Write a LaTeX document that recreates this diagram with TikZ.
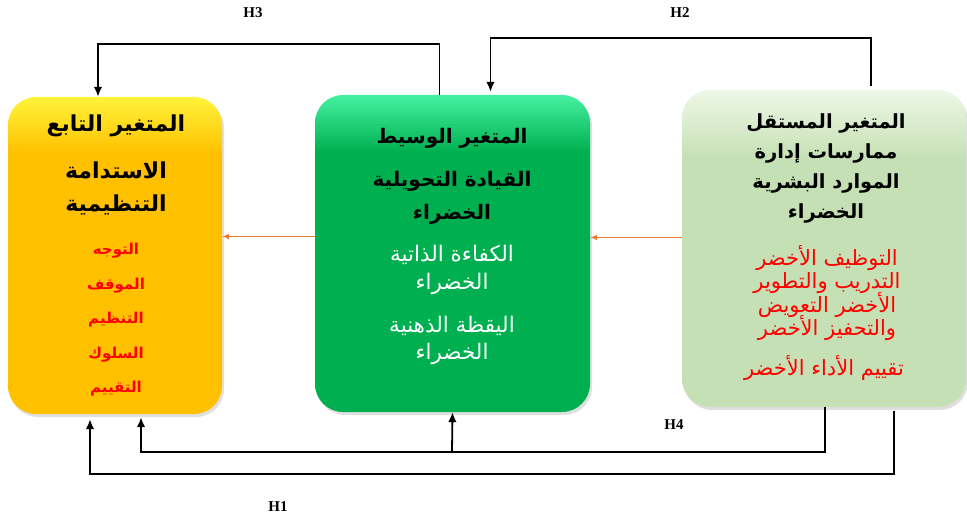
\documentclass[tikz,border=0pt]{standalone}
\usepackage{fontspec}
\setmainfont{Liberation Serif}
\newfontfamily\arabicfont[Script=Arabic]{DejaVu Sans}
\TeXXeTstate=1
\usepackage{tikz}
\usetikzlibrary{arrows.meta,shadows}
\definecolor{depgold}{HTML}{FFC000}
\definecolor{deptop}{HTML}{FFF33A}
\definecolor{midgreen}{HTML}{00B050}
\definecolor{midtop}{HTML}{45F0A0}
\definecolor{indgreen}{HTML}{C5E0B4}
\definecolor{indtop}{HTML}{EDF7E6}
\definecolor{flowor}{HTML}{ED7D31}
\pgfdeclareverticalshading{depshade}{100bp}{color(0bp)=(depgold); color(66bp)=(depgold); color(75bp)=(deptop); color(100bp)=(deptop)}
\pgfdeclareverticalshading{midshade}{100bp}{color(0bp)=(midgreen); color(66bp)=(midgreen); color(75bp)=(midtop); color(100bp)=(midtop)}
\pgfdeclareverticalshading{indshade}{100bp}{color(0bp)=(indgreen); color(64bp)=(indgreen); color(75bp)=(indtop); color(100bp)=(indtop)}
\newcommand\arab[1]{\beginR #1\endR}
\newcommand\tightlines{\lineskiplimit-20pt\relax}
\tikzset{
  varbox/.style={rounded corners=28pt, minimum height=317pt, inner sep=0pt,
    drop shadow={opacity=0.25, shadow xshift=2pt, shadow yshift=-3pt}},
  head/.style={align=center, font=\arabicfont\bfseries\fontsize{#1}{33}\selectfont},
  head/.default=20,
  hypo/.style={line width=1.8pt, -{Latex[length=10pt,width=8.5pt]}},
  flow/.style={flowor, line width=1.3pt, -{Latex[length=7pt,width=6pt]}},
  hlabel/.style={font=\bfseries\fontsize{15}{18}\selectfont}
}
\begin{document}
\begin{tikzpicture}[x=1pt, y=-1pt]
    \useasboundingbox (0,0) rectangle (967,519);
    \node[varbox, shading=depshade, minimum width=214pt] (dep) at (115,255.5) {};
    \node[varbox, shading=midshade, minimum width=275pt] (mid) at (452.5,253.5) {};
    \node[varbox, shading=indshade, minimum width=284pt] (ind) at (824,248.5) {};

    \node[head=22] (deptitle) at (116,126) {\arab{المتغير التابع}};
    \node[head=22] (depname) at (116,188) {\arab{الاستدامة}\\\arab{التنظيمية}};
    \node[align=center, text=red, font=\arabicfont\bfseries\fontsize{15}{34.5}\selectfont] (depdims) at (116,320)
      {\arab{التوجه}\\\arab{الموقف}\\\arab{التنظيم}\\\arab{السلوك}\\\arab{التقييم}};

    \node[head] (midtitle) at (452,138) {\arab{المتغير الوسيط}};
    \node[head] (midname) at (452,198) {\arab{القيادة التحويلية}\\\arab{الخضراء}};
    \node[align=center, text=white, font=\arabicfont\fontsize{21.5}{28}\selectfont] (effic) at (452,270)
      {\arab{الكفاءة الذاتية}\\\arab{الخضراء}};
    \node[align=center, text=white, font=\arabicfont\fontsize{21.5}{27}\selectfont] (mindful) at (452,340)
      {\arab{اليقظة الذهنية}\\\arab{الخضراء}};

    \node[align=center, font=\arabicfont\bfseries\fontsize{19.5}{30}\selectfont] (indtitle) at (826,168)
      {\arab{المتغير المستقل}\\\arab{ممارسات إدارة}\\\arab{الموارد البشرية}\\\arab{الخضراء}};
    \node[align=center, text=red, font=\arabicfont\fontsize{21}{23.5}\selectfont\tightlines] (practices) at (827,293)
      {\arab{التوظيف الأخضر}\\\arab{التدريب والتطوير}\\\arab{الأخضر التعويض}\\\arab{والتحفيز الأخضر}};
    \node[text=red, font=\arabicfont\fontsize{21}{23.5}\selectfont] (apprais) at (824,368)
      {\arab{تقييم الأداء الأخضر}};

    \draw[flow] ([yshift=17pt]mid.west) -- ([yshift=17pt]mid.west -| dep.east);
    \draw[flow] ([yshift=11pt]ind.west) -- ([yshift=11pt]ind.west -| mid.east);

    \coordinate (h3) at (270,44);
    \coordinate (h2) at (680,38);
    \coordinate (h4) at (452,452);
    \coordinate (h1) at (490,474);
    \draw[hypo] ([xshift=-13pt]mid.north) |- (h3) -| ([xshift=-17pt]dep.north);
    \draw[hypo, shorten <=4pt, shorten >=3pt] ([xshift=47pt]ind.north) |- (h2) -| ([xshift=38pt]mid.north);
    \draw[hypo, shorten >=3pt] ([xshift=1pt]ind.south) |- (h4) -| ([xshift=26pt]dep.south);
    \draw[hypo] (h4) -- (mid.south);
    \draw[hypo, shorten <=4pt, shorten >=5pt] ([xshift=70pt]ind.south) |- (h1) -| ([xshift=-25pt]dep.south);

    \node[hlabel] (lh3) at (253,13) {H3};
    \node[hlabel] (lh2) at (680,13) {H2};
    \node[hlabel] (lh4) at (674,425) {H4};
    \node[hlabel] (lh1) at (278,507) {H1};
\end{tikzpicture}
\end{document}
